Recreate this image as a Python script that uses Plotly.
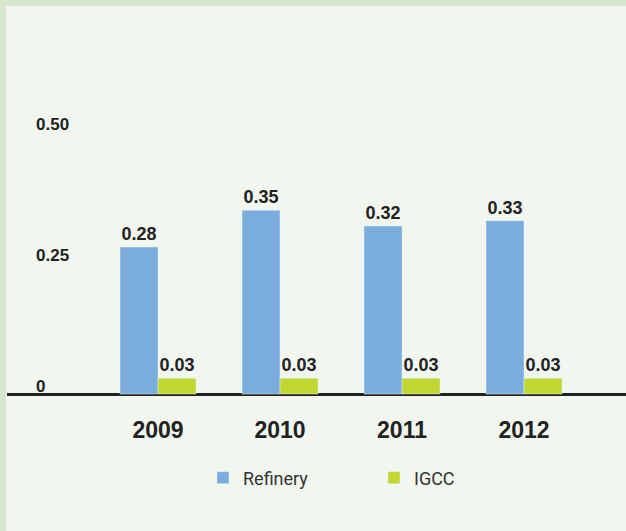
import plotly.graph_objects as go

# Chart data
years = ["2009", "2010", "2011", "2012"]
refinery = [0.28, 0.35, 0.32, 0.33]
igcc = [0.03, 0.03, 0.03, 0.03]
y_ticks = [0, 0.25, 0.50]
y_tick_text = ["0", "0.25", "0.50"]

W, H = 626, 531
ML, MR, MT, MB = 7, 0, 79, 0
paper_w = W - ML - MR
paper_h = H - MT - MB
base_px = 394                      # pixel row of the zero line
below_px = 10                      # room under the zero line for its label
px_per_unit = 525.0
dom_bottom = (H - base_px - below_px) / paper_h
axis_h = base_px - MT

frame = "#d5e8cd"
inner = "#f1f7ef"
ink = "#222222"
label_font = dict(family="Liberation Sans, Arial, sans-serif", size=18, color=ink)

fig = go.Figure()
fig.add_trace(go.Bar(
    name="Refinery", x=years, y=refinery, marker_color="#7aaddc",
    texttemplate="%{y:.2f}", textposition="outside", textfont=label_font,
    cliponaxis=False,
))
fig.add_trace(go.Bar(
    name="IGCC", x=years, y=igcc, marker_color="#c0d72f",
    texttemplate="%{y:.2f}", textposition="outside", textfont=label_font,
    cliponaxis=False,
))

# light green frame along the top and left edges
top_px = 6
left_px = 6
fig.add_shape(type="rect", xref="paper", yref="paper",
              x0=-ML / paper_w, x1=(W - ML) / paper_w,
              y0=1 + (MT - top_px) / paper_h, y1=1 + MT / paper_h,
              fillcolor=frame, line_width=0, layer="below")
fig.add_shape(type="rect", xref="paper", yref="paper",
              x0=-ML / paper_w, x1=(left_px - ML) / paper_w,
              y0=0, y1=1 + MT / paper_h,
              fillcolor=frame, line_width=0, layer="below")

fig.update_layout(
    width=W, height=H,
    margin=dict(l=ML, r=MR, t=MT, b=MB, pad=0, autoexpand=False),
    paper_bgcolor=inner, plot_bgcolor=inner,
    barmode="group", bargap=0.377, bargroupgap=0,
    showlegend=True,
    legend=dict(
        orientation="h", x=(203 - ML) / paper_w, xanchor="left",
        y=(H - 478) / paper_h, yanchor="middle",
        font=dict(family="Liberation Sans Narrow, Roboto, sans-serif", size=18, color="#333333"),
        entrywidth=126, entrywidthmode="pixels",
        bgcolor="rgba(0,0,0,0)", itemclick=False,
    ),
    xaxis=dict(
        type="category", range=[-1.238, 3.836],
        showline=False,
        ticks="outside", ticklen=15 - below_px, tickcolor="rgba(0,0,0,0)",
        tickfont=dict(family="Liberation Sans, Arial, sans-serif", size=23, color=ink),
        showgrid=False, zeroline=False, fixedrange=True,
    ),
    yaxis=dict(
        domain=[dom_bottom, 1],
        range=[-below_px / px_per_unit, axis_h / px_per_unit],
        tickvals=y_ticks, ticktext=y_tick_text,
        ticklabelposition="inside top", ticklabelstandoff=26, ticklabelshift=4,
        ticks="",
        tickfont=dict(family="Liberation Sans, Arial, sans-serif", size=17, color=ink),
        showgrid=False, showline=False, fixedrange=True,
        zeroline=True, zerolinecolor=ink, zerolinewidth=3,
    ),
    font=dict(family="Liberation Sans, Arial, sans-serif"),
)
fig.update_xaxes(tickfont_weight="bold")
fig.update_yaxes(tickfont_weight="bold")
fig.update_traces(textfont_weight="bold")

fig.write_html("out.html")
